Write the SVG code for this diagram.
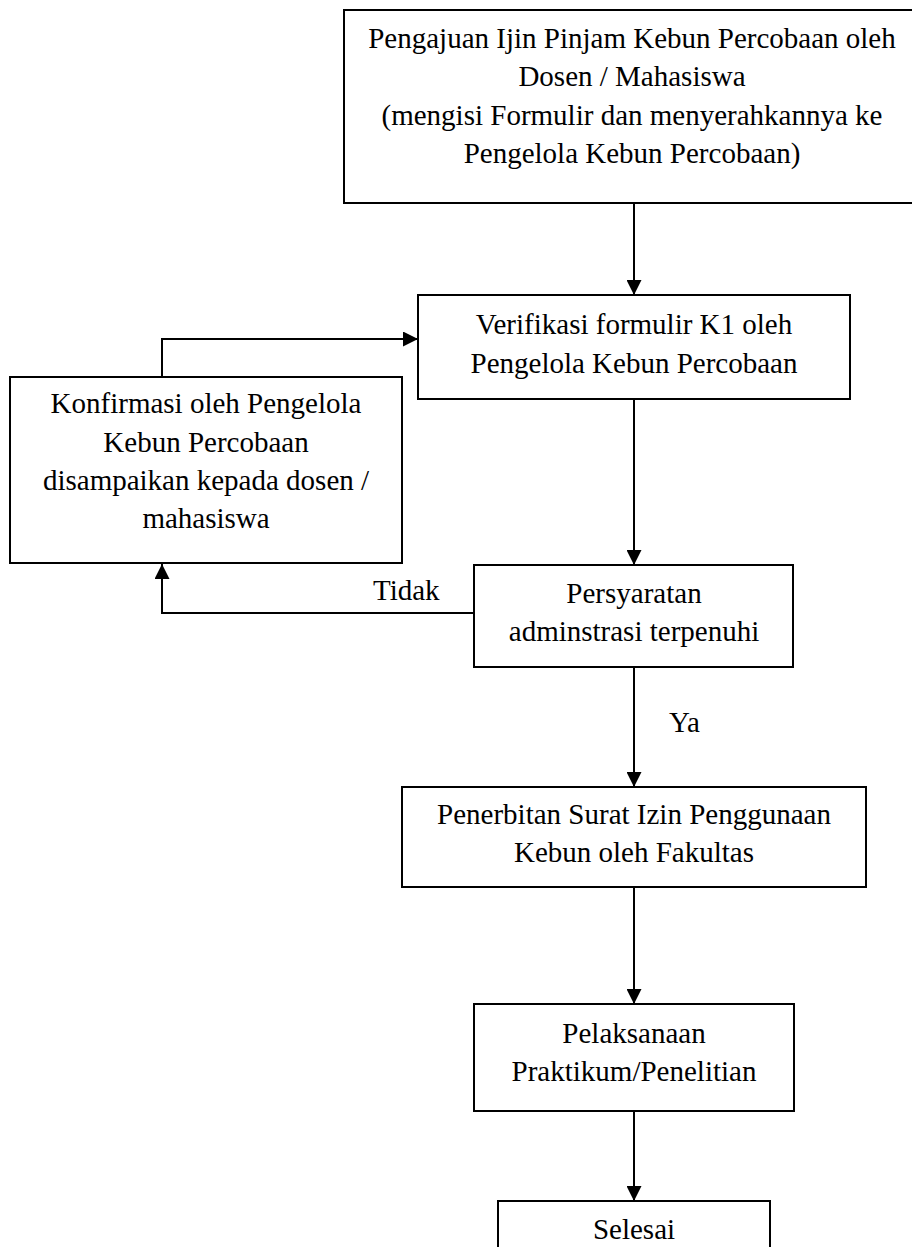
<svg xmlns="http://www.w3.org/2000/svg" width="912" height="1247" viewBox="0 0 912 1247">
<style>
.box{fill:#fff;stroke:#000;stroke-width:2}
.t{font-family:"Liberation Serif","Times New Roman",serif;font-size:29px;fill:#000;text-anchor:middle}
.l{font-family:"Liberation Serif","Times New Roman",serif;font-size:29px;fill:#000}
.c{fill:none;stroke:#000;stroke-width:2}
</style>
<defs>
<marker id="ah" markerUnits="userSpaceOnUse" viewBox="0 0 15 15" refX="15" refY="7.5" markerWidth="15" markerHeight="15" orient="auto">
<path d="M0,0 L15,7.5 L0,15 z" fill="#000"/>
</marker>
</defs>
<rect width="912" height="1247" fill="#fff"/>
<g id="connectors">
<line class="c" x1="634" y1="203" x2="634" y2="295" marker-end="url(#ah)"/>
<line class="c" x1="634" y1="399" x2="634" y2="565" marker-end="url(#ah)"/>
<line class="c" x1="634" y1="667" x2="634" y2="787" marker-end="url(#ah)"/>
<line class="c" x1="634" y1="887" x2="634" y2="1004" marker-end="url(#ah)"/>
<line class="c" x1="634" y1="1111" x2="634" y2="1201" marker-end="url(#ah)"/>
<polyline class="c" points="474,613 162,613 162,564" marker-end="url(#ah)"/>
<polyline class="c" points="162,377 162,339 418,339" marker-end="url(#ah)"/>
<text class="l" x="373" y="600">Tidak</text>
<text class="l" x="669" y="732">Ya</text>
</g>
<g id="n1">
<rect class="box" x="344" y="10" width="580" height="193"/>
<text class="t" x="632" y="48">Pengajuan Ijin Pinjam Kebun Percobaan oleh</text>
<text class="t" x="632" y="86">Dosen / Mahasiswa</text>
<text class="t" x="632" y="125">(mengisi Formulir dan menyerahkannya ke</text>
<text class="t" x="632" y="163">Pengelola Kebun Percobaan)</text>
</g>
<g id="n2">
<rect class="box" x="418" y="295" width="432" height="104"/>
<text class="t" x="634" y="334">Verifikasi formulir K1 oleh</text>
<text class="t" x="634" y="373">Pengelola Kebun Percobaan</text>
</g>
<g id="n3">
<rect class="box" x="10" y="377" width="392" height="186"/>
<text class="t" x="206" y="413">Konfirmasi oleh Pengelola</text>
<text class="t" x="206" y="452">Kebun Percobaan</text>
<text class="t" x="206" y="490">disampaikan kepada dosen /</text>
<text class="t" x="206" y="528">mahasiswa</text>
</g>
<g id="n4">
<rect class="box" x="474" y="565" width="319" height="102"/>
<text class="t" x="634" y="603">Persyaratan</text>
<text class="t" x="634" y="641">adminstrasi terpenuhi</text>
</g>
<g id="n5">
<rect class="box" x="402" y="787" width="464" height="100"/>
<text class="t" x="634" y="824">Penerbitan Surat Izin Penggunaan</text>
<text class="t" x="634" y="862">Kebun oleh Fakultas</text>
</g>
<g id="n6">
<rect class="box" x="474" y="1004" width="320" height="107"/>
<text class="t" x="634" y="1043">Pelaksanaan</text>
<text class="t" x="634" y="1081">Praktikum/Penelitian</text>
</g>
<g id="n7">
<rect class="box" x="498" y="1201" width="272" height="60"/>
<text class="t" x="634" y="1239">Selesai</text>
</g>
</svg>
